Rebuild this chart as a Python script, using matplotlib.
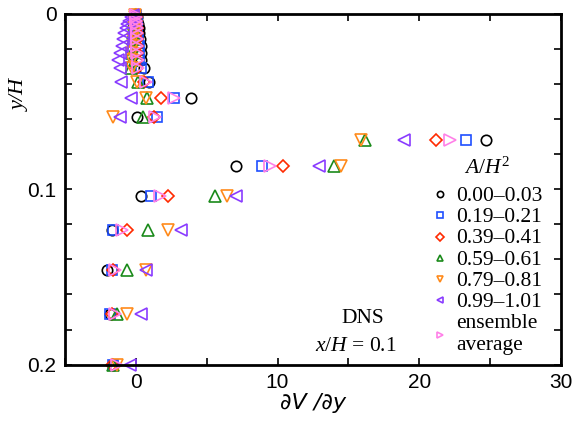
import matplotlib
matplotlib.use("Agg")
import matplotlib.pyplot as plt
import numpy as np

plt.rcParams['mathtext.fontset'] = 'custom'
plt.rcParams['mathtext.rm'] = 'Liberation Serif'
plt.rcParams['mathtext.it'] = 'Liberation Serif:italic'

# wall-normal positions of the sampled grid rows
y_rows = [0.0005, 0.002, 0.004, 0.006, 0.008, 0.011, 0.014, 0.018, 0.022, 0.026,
          0.031, 0.039, 0.048, 0.059, 0.072, 0.087, 0.104, 0.123, 0.146, 0.171, 0.2]

# dV/dy at x/H = 0.1 for each A/H^2 bin
dvdy_000 = [0.0, 0.05, 0.1, 0.15, 0.2, 0.25, 0.3, 0.35, 0.4, 0.4,
            0.55, 0.95, 3.9, 0.05, 24.7, 7.1, 0.35, -1.7, -2.0, -1.8, -1.6]
dvdy_020 = [0.0, 0.0, 0.05, 0.05, 0.1, 0.1, 0.15, 0.2, 0.2, 0.25,
            0.35, 0.85, 2.7, 1.5, 23.3, 8.9, 1.1, -1.6, -1.7, -1.8, -1.6]
dvdy_040 = [0.0, 0.0, 0.0, 0.0, 0.05, 0.05, 0.05, 0.1, 0.1, 0.1,
            0.1, 0.6, 1.8, 1.3, 21.2, 10.4, 2.3, -0.65, -1.6, -1.7, -1.7]
dvdy_060 = [-0.05, -0.1, -0.1, -0.15, -0.15, -0.2, -0.2, -0.25, -0.3, -0.3,
            -0.35, 0.15, 0.8, 0.5, 16.2, 14.0, 5.6, 0.85, -0.65, -1.35, -1.6]
dvdy_080 = [-0.05, -0.05, -0.1, -0.1, -0.15, -0.15, -0.2, -0.2, -0.25, -0.25,
            -0.3, 0.05, 0.7, -1.6, 15.9, 14.5, 6.4, 2.3, 0.7, -0.65, -1.35]
dvdy_100 = [-0.2, -0.35, -0.5, -0.6, -0.7, -0.8, -0.9, -1.0, -1.1, -1.25,
            -1.1, -1.05, -0.35, -1.1, 18.9, 12.9, 7.1, 3.2, 0.75, 0.35, -0.4]
dvdy_avg = [0.0, 0.0, 0.0, 0.05, 0.05, 0.05, 0.1, 0.1, 0.1, 0.15,
            0.15, 0.7, 2.7, 1.35, 22.2, 9.5, 1.7, -1.0, -1.5, -1.5, -1.35]

labels = ['0.00\u20130.03', '0.19\u20130.21', '0.39\u20130.41', '0.59\u20130.61',
          '0.79\u20130.81', '0.99\u20131.01', 'ensemble\naverage']
series = [dvdy_000, dvdy_020, dvdy_040, dvdy_060, dvdy_080, dvdy_100, dvdy_avg]
markers = ['o', 's', 'D', '^', 'v', '<', '>']
colors = ['black', '#1f4fff', '#ff2a00', '#1a8a1a', '#ff8a1a', '#8a3cff', '#ff80e8']
msizes = [7.5, 7.5, 6.5, 8, 8, 8, 8]

fig = plt.figure(figsize=(5.85, 4.23), dpi=100)
ax = fig.add_axes([0.111, 0.138, 0.848, 0.829])

for vals, m, c, ms, lab in zip(series, markers, colors, msizes, labels):
    ax.plot(vals, y_rows, linestyle='none', marker=m, markersize=ms,
            markerfacecolor='none', markeredgecolor=c, markeredgewidth=1.2,
            label=lab, clip_on=False)

ax.set_xlim(-5, 30)
ax.set_ylim(0.2, 0)
ax.set_xticks(np.arange(-5, 31, 5))
ax.set_xticklabels(['', '0', '', '10', '', '20', '', '30'])
ax.set_yticks(np.arange(0, 0.201, 0.02))
ax.set_yticklabels(['0', '', '', '', '', '0.1', '', '', '', '', '0.2'])
ax.tick_params(direction='in', top=True, right=True, length=5, width=1.2,
               labelsize=15, pad=6)
for lbl in ax.get_xticklabels() + ax.get_yticklabels():
    lbl.set_family('Liberation Sans')
for s in ax.spines.values():
    s.set_linewidth(2)

ax.set_xlabel('\u2202V /\u2202y', fontsize=16, fontstyle='italic', labelpad=1)
ax.set_ylabel('y/H', fontsize=16, family='Liberation Serif', fontstyle='italic')
ax.yaxis.set_label_coords(-0.07, 0.77)

leg = ax.legend(loc='lower right', bbox_to_anchor=(0.962, 0.028), frameon=False,
                title='$A/H^2$', markerscale=0.6, handlelength=0.8,
                handletextpad=0.35, labelspacing=0.1, borderaxespad=0.0,
                borderpad=0.0, handleheight=0.5,
                prop={'family': 'Liberation Serif', 'size': 15.5},
                title_fontproperties={'family': 'Liberation Serif', 'size': 15.5})
leg._legend_box.sep = 6

ax.text(16.0, 0.1735, 'DNS', family='Liberation Serif', fontsize=15.5,
        ha='center', va='center')
ax.text(15.5, 0.1895, '$x/H$ = 0.1', family='Liberation Serif', fontsize=15.5,
        ha='center', va='center')

fig.savefig('out.png', dpi=100)
